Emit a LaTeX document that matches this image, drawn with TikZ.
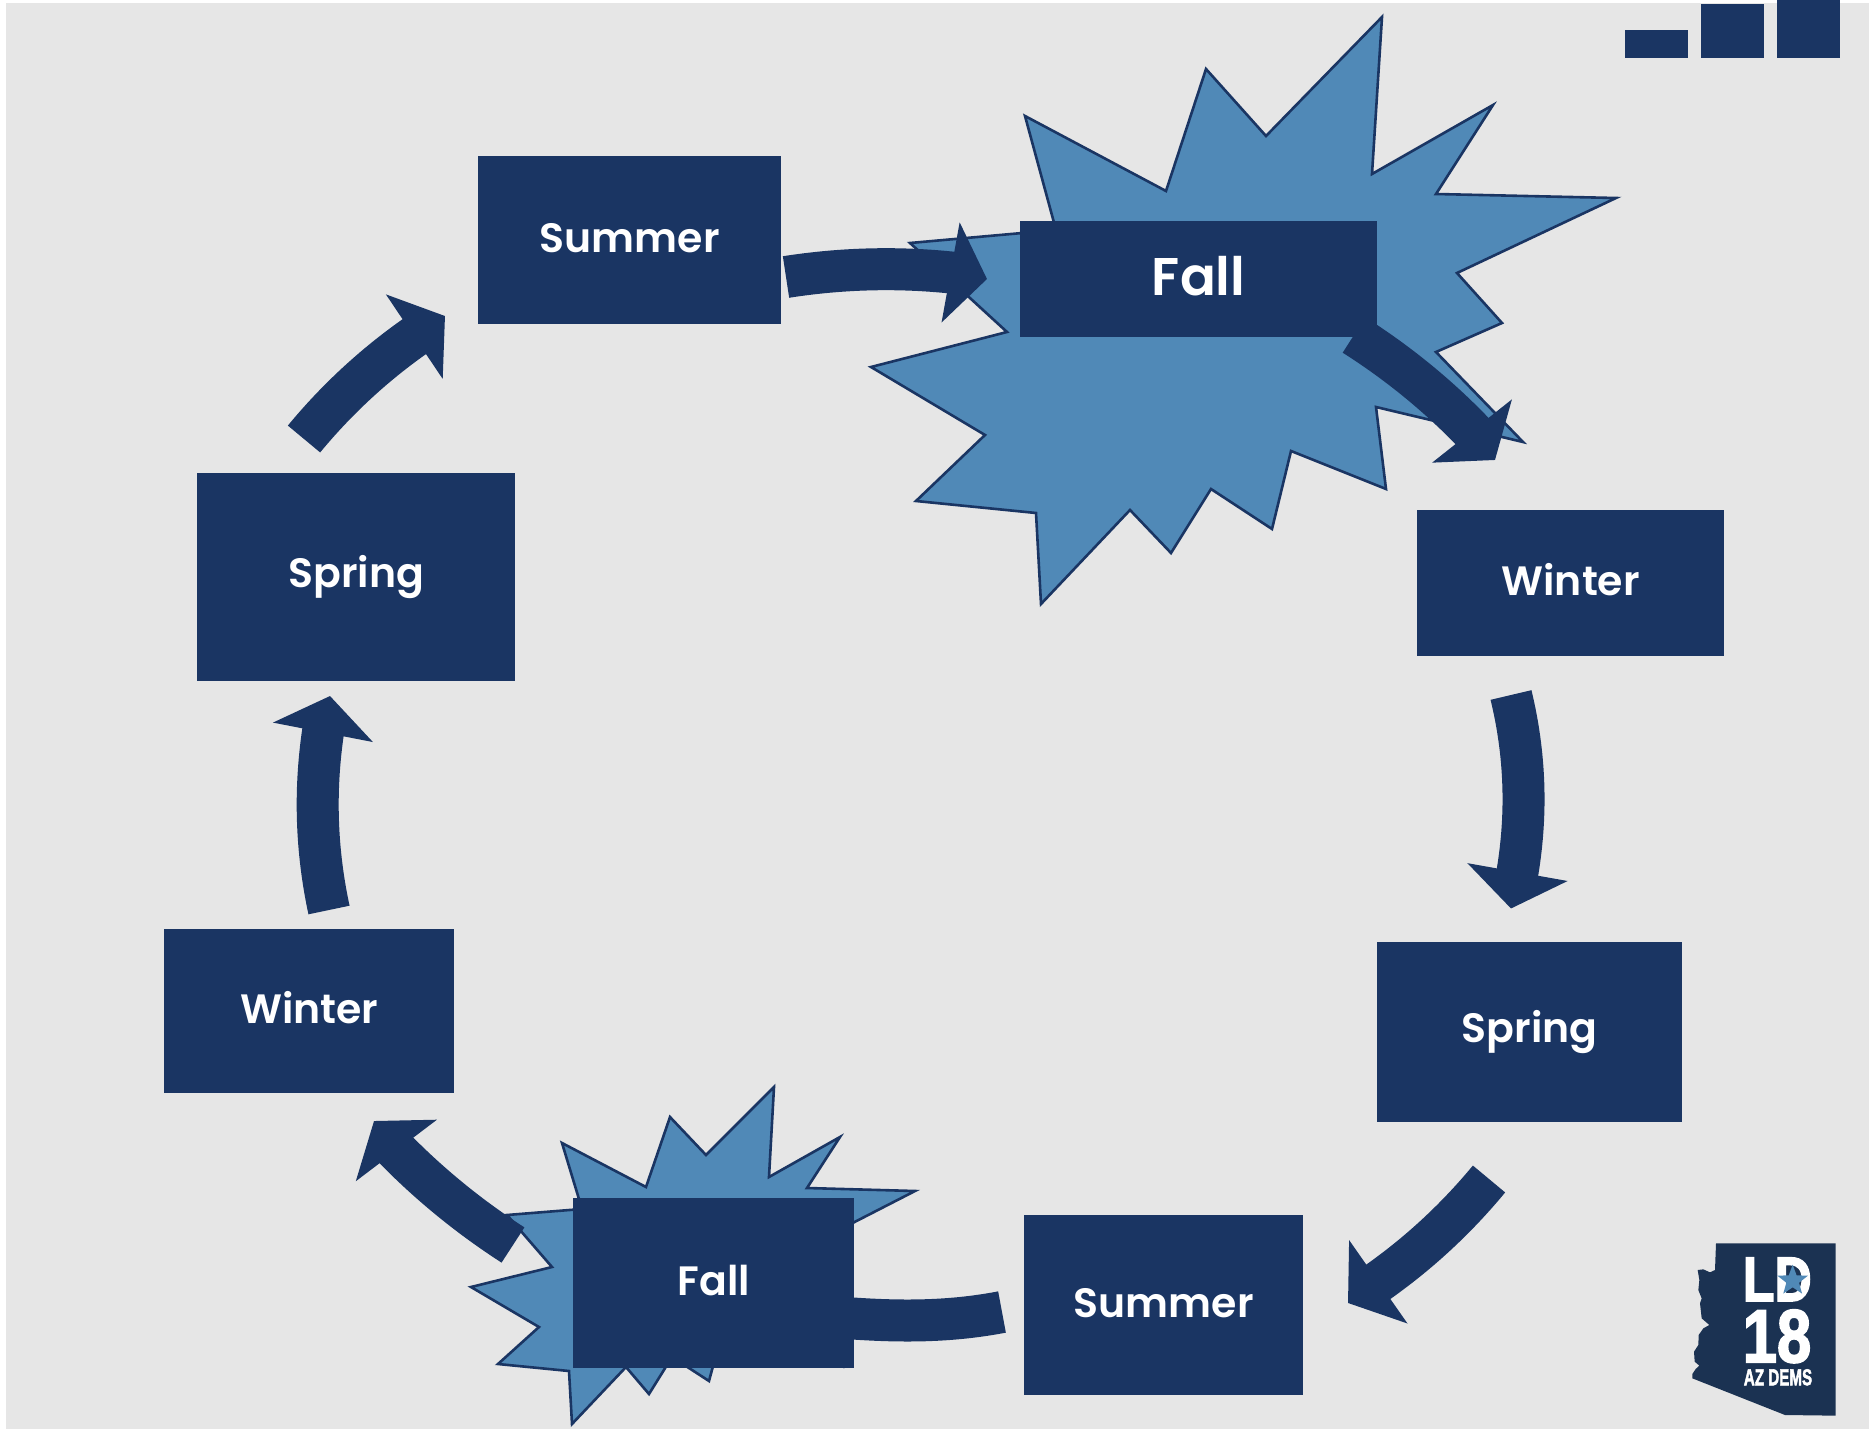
\documentclass[tikz,border=0pt]{standalone}
\usepackage{fontspec}
\setmainfont{Poppins SemiBold}
\newfontfamily\logofont{Liberation Sans Bold}[FakeBold=2.5]
\usetikzlibrary{arrows.meta,shapes.geometric}
\definecolor{navy}{HTML}{1A3563}
\definecolor{starblue}{HTML}{5089B7}
\definecolor{panel}{HTML}{E6E6E6}
\definecolor{logonavy}{HTML}{1B3252}
\tikzset{
  season/.style={fill=navy,draw=none,inner sep=0pt,text=white,font=\fontsize{41}{41}\selectfont,anchor=north west,align=center},
  flow/.style={draw=navy,line width=42pt,-{Triangle[length=37pt,width=100pt]}},
  burst/.style={fill=starblue,draw=navy,line width=2.6pt,line join=miter},
  iconbar/.style={fill=navy,draw=none}
}
\newcommand{\seasonbox}[7]{% name, x0, y0, x1, y1, raise, text
  \pgfmathsetlengthmacro{\bw}{(#4-#2)*1pt}\pgfmathsetlengthmacro{\bh}{(#5-#3)*1pt}
  \node[season,minimum width=\bw,minimum height=\bh] (#1) at (#2,#3) {\raisebox{#6pt}{#7}};}
\begin{document}
\begin{tikzpicture}[x=1pt,y=-1pt]
\useasboundingbox (0,0) rectangle (1869,1429);
\fill[white] (0,0) rectangle (1869,1429);
\fill[panel] (6,3) rectangle (1869,1429);
% bursts
\draw[burst] (1025,116)--(1166,191)--(1206,69)--(1266,136)--(1382,17)--(1372,174)--(1493,105)--(1436,194)--(1616,198)--(1457,273)--(1502,323)--(1436,352)--(1523,442)--(1376,407)--(1386,489)--(1291,451)--(1272,529)--(1211,489)--(1171,553)--(1130,510)--(1041,604)--(1036,513)--(916,501)--(985,435)--(871,367)--(1007,332)--(910,243)--(1056,230)--cycle;
\draw[burst] (562,1143)--(646,1187)--(670,1117)--(706,1155)--(774,1087)--(769,1177)--(840,1137)--(807,1188)--(915,1191)--(800,1250)--(720,1340)--(709,1381)--(672,1357)--(649,1394)--(626,1367)--(572,1424)--(569,1371)--(498,1364)--(539,1327)--(471,1287)--(552,1267)--(507,1215)--(582,1209)--cycle;
% named arrow ends: start, head base, tip
\coordinate (a1s) at (786,277); \coordinate (a1b) at (951,272.5); \coordinate (a1e) at (987,279);
\coordinate (a2s) at (1354,335); \coordinate (a2b) at (1472,431); \coordinate (a2e) at (1495,460);
\coordinate (a3s) at (1511,695); \coordinate (a3b) at (1517.5,872); \coordinate (a3e) at (1511,908.5);
\coordinate (a4s) at (1489,1179); \coordinate (a4b) at (1378,1282); \coordinate (a4e) at (1348,1303);
\coordinate (a5s) at (1002,1312); \coordinate (a5b) at (846,1318); \coordinate (a5e) at (810,1316);
\coordinate (a6s) at (513,1245); \coordinate (a6b) at (396,1150); \coordinate (a6e) at (374,1121);
\coordinate (a7s) at (329,910); \coordinate (a7b) at (323,732); \coordinate (a7e) at (330,696);
\coordinate (a8s) at (304,439); \coordinate (a8b) at (414.5,336.5); \coordinate (a8e) at (445,316);
\draw[flow] (a5s) .. controls (950,1322) and (900,1322) .. (a5b) -- (a5e);
% boxes
\seasonbox{summerA}{478}{156}{781}{324}{4}{Summer}
\seasonbox{fallA}{1020}{221}{1377}{337}{7.5}{\fontsize{53}{53}\selectfont Fall}
\seasonbox{winterA}{1417}{510}{1724}{656}{8.5}{Winter}
\seasonbox{springA}{1377}{942}{1682}{1122}{0}{Spring}
\seasonbox{summerB}{1024}{1215}{1303}{1395}{4}{Summer}
\seasonbox{fallB}{573}{1198}{854}{1368}{6.5}{Fall}
\seasonbox{winterB}{164}{929}{454}{1093}{7.5}{Winter}
\seasonbox{springB}{197}{473}{515}{681}{2}{Spring}
% arrows
\draw[flow] (a1s) .. controls (841,268.4) and (896,266.9) .. (a1b) -- (a1e);
\draw[flow] (a2s) .. controls (1397,362.3) and (1436.5,394.3) .. (a2b) -- (a2e);
\draw[flow] (a3s) .. controls (1525.2,753.6) and (1527.3,812.6) .. (a3b) -- (a3e);
\draw[flow] (a4s) .. controls (1456.6,1218.2) and (1419.6,1252.6) .. (a4b) -- (a4e);
\draw[flow] (a6s) .. controls (470.5,1217.6) and (431.5,1186) .. (a6b) -- (a6e);
\draw[flow] (a7s) .. controls (316.3,851) and (314.3,791.7) .. (a7b) -- (a7e);
\draw[flow] (a8s) .. controls (336.2,400) and (373.1,365.7) .. (a8b) -- (a8e);
% top-right bars
\fill[iconbar] (1625,30) rectangle (1688,58);
\fill[iconbar] (1701,4) rectangle (1764,58);
\fill[iconbar] (1777,0) rectangle (1840,58);
% logo
\begin{scope}[shift={(1660,1220)},x=.33333pt,y=-.33333pt]
\fill[logonavy] (168,70)--(527,70)--(527,587)--(375,585)--(97,475)--(97,462)--(107,447)--(118,437)--(104,425)--(102,395)--(115,375)--(116,345)--(130,325)--(148,315)--(125,295)--(120,250)--(125,235)--(115,210)--(118,180)--(113,150)--(130,148)--(150,157)--(165,150)--cycle;
\node[text=white,font=\logofont\fontsize{63}{63}\selectfont,inner sep=0pt,xscale=.82] (ld) at (352,178) {LD};
\node[star,star points=5,star point ratio=2.4,fill=starblue,inner sep=0pt,minimum size=32pt] (logostar) at (398,182) {};
\node[text=white,font=\logofont\fontsize{75}{75}\selectfont,inner sep=0pt,xscale=.82] (eighteen) at (351,349) {18};
\node[text=white,font=\logofont\fontsize{23}{23}\selectfont,inner sep=0pt,xscale=.66] (azdems) at (354,472) {AZ DEMS};
\end{scope}
\end{tikzpicture}
\end{document}
